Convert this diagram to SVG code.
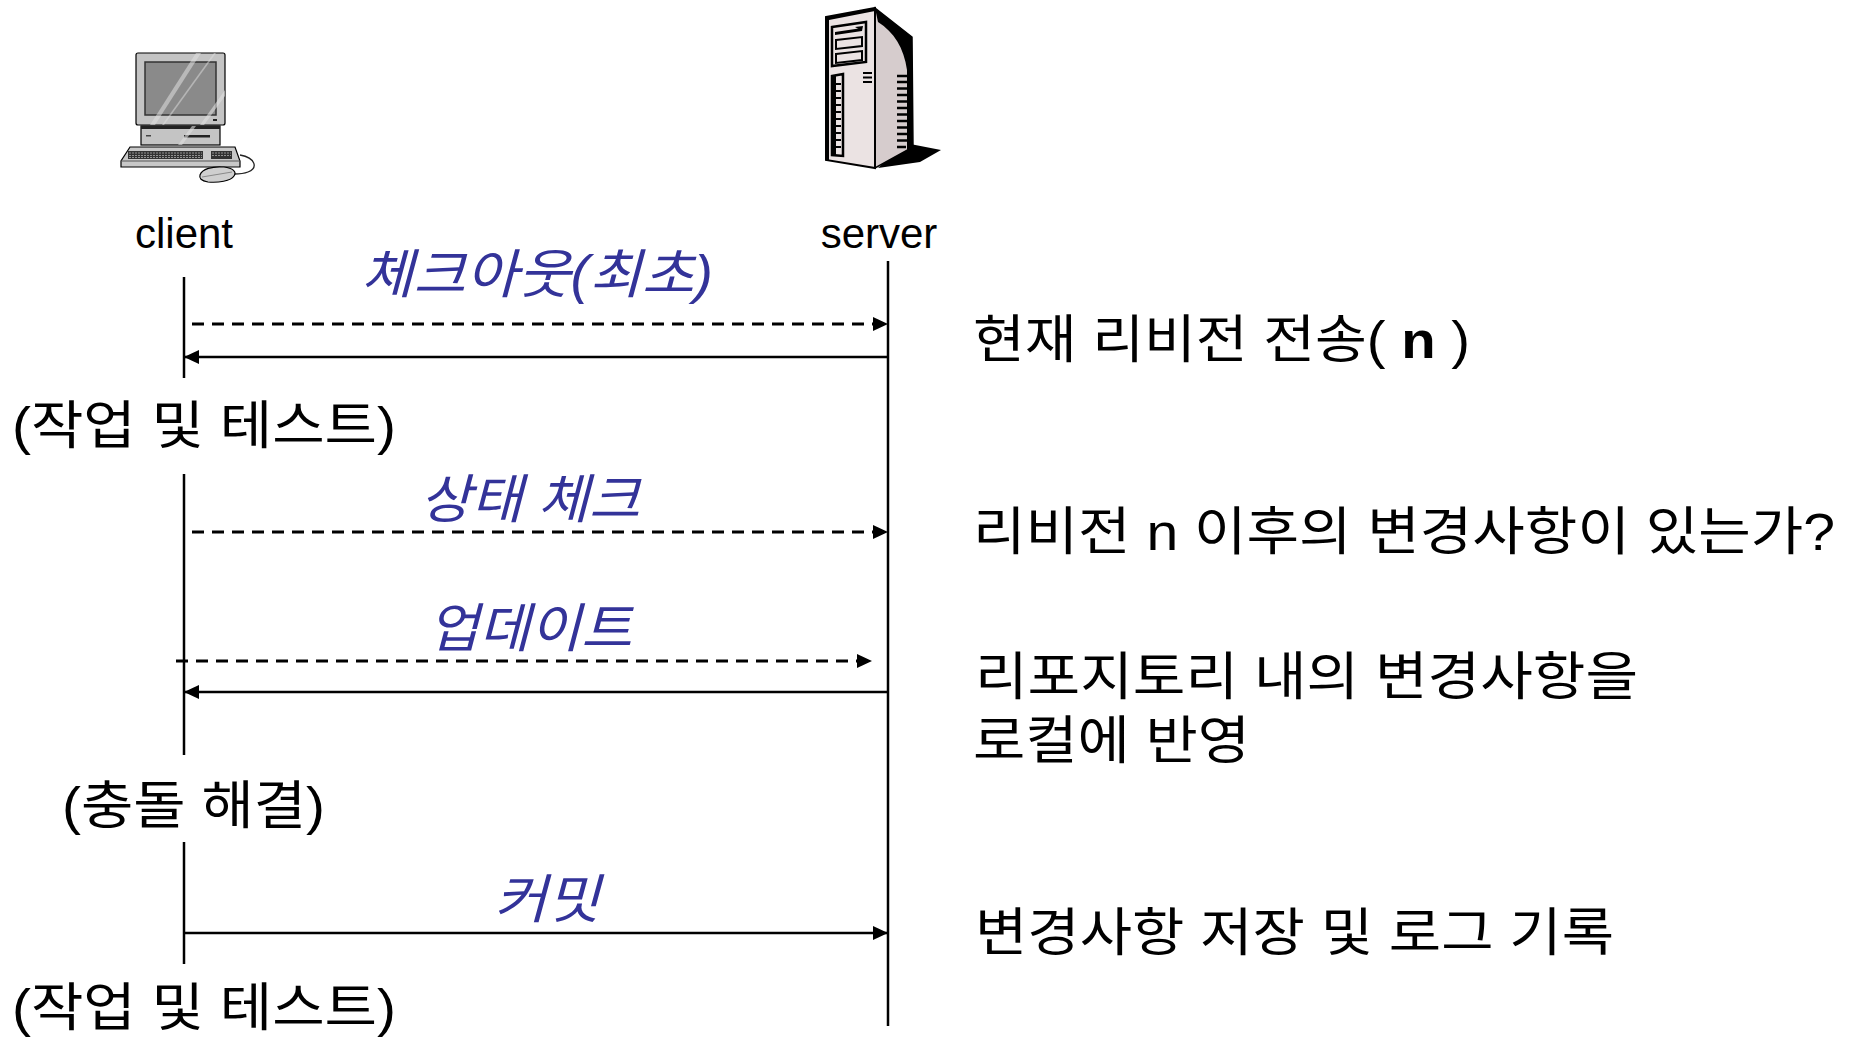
<svg xmlns="http://www.w3.org/2000/svg" width="1854" height="1037" viewBox="0 0 1854 1037">
  <style>
    .lbl { font-family: "Liberation Sans", "Noto Sans CJK KR", sans-serif; font-size: 52px; fill: #000; }
    .msg { font-family: "Liberation Sans", "Noto Sans CJK KR", sans-serif; font-size: 53px; font-style: italic; fill: #333399; }
    .role { font-family: "Liberation Sans", Arial, sans-serif; font-size: 42px; fill: #000; text-anchor: middle; }
    .life { stroke: #000; stroke-width: 2.5; fill: none; }
    .solid { stroke: #000; stroke-width: 2.5; fill: none; marker-end: url(#head); }
    .dash { stroke: #000; stroke-width: 3; fill: none; stroke-dasharray: 12 8; marker-end: url(#head); }
    .ol { stroke: #000; stroke-width: 1.2; }
  </style>
  <defs>
    <marker id="head" markerUnits="userSpaceOnUse" markerWidth="16" markerHeight="15" refX="15" refY="7" orient="auto">
      <path d="M0,0 L15,7 L0,14 Z" fill="#000"/>
    </marker>
  </defs>

  <rect width="1854" height="1037" fill="#fff"/>

  <!-- client workstation -->
  <g id="client">
    <!-- monitor -->
    <rect x="136" y="53" width="89" height="72" rx="2" fill="#c4c4c4" class="ol"/>
    <rect x="145" y="62" width="71" height="53" fill="#8a8a8a" stroke="#333" stroke-width="1.5"/>
    <path d="M150,125 L196,53 L201,53 L155,125 Z" fill="#e0e0e0" opacity="0.55"/>
    <path d="M162,125 L214,53 L216,53 L164,125 Z" fill="#e0e0e0" opacity="0.5"/>
    <path d="M200,125 L225,90 L225,96 L204,125 Z" fill="#e0e0e0" opacity="0.6"/>
    <rect x="213" y="119" width="4" height="2" fill="#222"/>
    <!-- system unit -->
    <rect x="141" y="126" width="79" height="19" fill="#c4c4c4" class="ol"/>
    <rect x="141" y="126" width="79" height="3" fill="#222"/>
    <rect x="184" y="135" width="26" height="2.5" fill="#222"/>
    <rect x="146" y="135" width="5" height="1.5" fill="#444"/>
    <path d="M178,145 L192,126 L196,126 L182,145 Z" fill="#e0e0e0" opacity="0.6"/>
    <!-- keyboard -->
    <path d="M130,147 L235,147 L240,161 L240,167 L121,167 L121,161 Z" fill="#c8c8c8" class="ol"/>
    <path d="M121,161 L240,161" stroke="#555" stroke-width="1"/>
    <rect x="128" y="151" width="75" height="8" fill="#333"/>
    <rect x="211" y="151" width="21" height="8" fill="#333"/>
    <path d="M129,153 H202 M129,155.5 H202 M129,157.5 H202 M212,153 H231 M212,155.5 H231" stroke="#bbb" stroke-width="0.7" stroke-dasharray="2 1"/>
    <!-- cable and mouse -->
    <path d="M240,155 C256,158 258,168 248,172 C243,174 238,174 234,174" fill="none" stroke="#222" stroke-width="1.3"/>
    <path d="M200,175 C202,169 212,166 224,167 C233,168 237,172 234,176 C231,181 218,183 208,182 C201,181 199,178 200,175 Z" fill="#cfcfcf" class="ol"/>
    <path d="M202,177 L232,172" stroke="#777" stroke-width="0.8"/>
  </g>

  <!-- server tower -->
  <g id="server">
    <!-- shadow -->
    <path d="M905,143 L941,150 L920,162 L878,168 Z" fill="#000"/>
    <!-- side panel -->
    <path d="M875,8 L912,37 L913,147 L875,168 Z" fill="#d6cccd" stroke="#000" stroke-width="1.5"/>
    <path d="M875,8 L912,37 L913,147 L907,150 L907,70 C904,48 894,32 878,22 Z" fill="#000"/>
    <!-- side vents -->
    <path d="M897,76 H908 M897,82 H908 M897,88.5 H908 M897,95 H908 M897,101.5 H908 M897,108 H908 M897,114.5 H908 M897,121 H908 M897,127.5 H908 M897,134 H908 M897,140.5 H908 M897,147 H906" stroke="#000" stroke-width="2.6"/>
    <!-- front panel -->
    <path d="M826,17 L875,8 L875,168 L826,160 Z" fill="#ebe3e3" stroke="#000" stroke-width="2"/>
    <path d="M826,17 L875,8 L875,11 L829,20 L829,160 L826,160 Z" fill="#000"/>
    <!-- drive bays -->
    <path d="M832,27 L866,22 L866,62 L832,66 Z" fill="none" stroke="#000" stroke-width="2.5"/>
    <path d="M835,32 L862,28 L862,31 L835,35 Z" fill="#000"/>
    <path d="M855,27 L863,26 L862,31 Z" fill="#000"/>
    <path d="M836,40 L862,37 L862,46 L836,49 Z" fill="none" stroke="#000" stroke-width="2"/>
    <path d="M836,54 L862,51 L862,60 L836,63 Z" fill="none" stroke="#000" stroke-width="2"/>
    <!-- front grille lines -->
    <path d="M863,73 H872 M863,77.5 H872 M863,82 H872" stroke="#000" stroke-width="2"/>
    <!-- front vertical grille -->
    <path d="M832,76 L843,74 L843,156 L832,155 Z" fill="#ebe3e3" stroke="#000" stroke-width="2.5"/>
    <path d="M834,84 H841 M834,91 H841 M834,98 H841 M834,105 H841 M834,112 H841 M834,119 H841 M834,126 H841 M834,133 H841 M834,140 H841 M834,147 H841" stroke="#000" stroke-width="2"/>
    <path d="M832,76 L836,76 L836,155 L832,155 Z" fill="#000"/>
  </g>

  <!-- role captions -->
  <g id="client-caption"><text class="role" x="184" y="248">client</text></g>
  <g id="server-caption"><text class="role" x="879" y="248">server</text></g>

  <!-- lifelines -->
  <g id="lifelines">
    <path class="life" d="M184,277 V378"/>
    <path class="life" d="M184,474 V755"/>
    <path class="life" d="M184,842 V964"/>
    <path class="life" d="M888,261 V1026"/>
  </g>

  <!-- messages between client and server -->
  <g id="connectors">
    <path class="dash" d="M192,324 H888"/>
    <path class="solid" d="M888,357 H184"/>
    <path class="dash" d="M192,532 H888"/>
    <path class="dash" d="M176,661 H872"/>
    <path class="solid" d="M888,692 H184"/>
    <path class="solid" d="M184,933 H888"/>
  </g>

  <!-- message labels -->
  <g id="msg-checkout"><text class="msg" x="361" y="293" textLength="352" lengthAdjust="spacingAndGlyphs">체크아웃(최초)</text></g>
  <g id="msg-status"><text class="msg" x="420" y="518" textLength="220" lengthAdjust="spacingAndGlyphs">상태 체크</text></g>
  <g id="msg-update"><text class="msg" x="428" y="647" textLength="204" lengthAdjust="spacingAndGlyphs">업데이트</text></g>
  <g id="msg-commit"><text class="msg" x="494" y="918" textLength="106" lengthAdjust="spacingAndGlyphs">커밋</text></g>

  <!-- client-side activities -->
  <g id="act-work1"><text class="lbl" x="12" y="444" textLength="384" lengthAdjust="spacingAndGlyphs">(작업 및 테스트)</text></g>
  <g id="act-resolve"><text class="lbl" x="62" y="824" textLength="263" lengthAdjust="spacingAndGlyphs">(충돌 해결)</text></g>
  <g id="act-work2"><text class="lbl" x="12" y="1026" textLength="384" lengthAdjust="spacingAndGlyphs">(작업 및 테스트)</text></g>

  <!-- server-side actions -->
  <g id="srv-send"><text class="lbl" x="973" y="358" textLength="497" lengthAdjust="spacingAndGlyphs">현재 리비전 전송( <tspan font-weight="bold">n</tspan> )</text></g>
  <g id="srv-check"><text class="lbl" x="973" y="550" textLength="862" lengthAdjust="spacingAndGlyphs">리비전 n 이후의 변경사항이 있는가?</text></g>
  <g id="srv-update"><text class="lbl" x="975" y="695" textLength="663" lengthAdjust="spacingAndGlyphs">리포지토리 내의 변경사항을</text>
    <text class="lbl" x="973" y="759" textLength="277" lengthAdjust="spacingAndGlyphs">로컬에 반영</text></g>
  <g id="srv-commit"><text class="lbl" x="975" y="951" textLength="639" lengthAdjust="spacingAndGlyphs">변경사항 저장 및 로그 기록</text></g>
</svg>
